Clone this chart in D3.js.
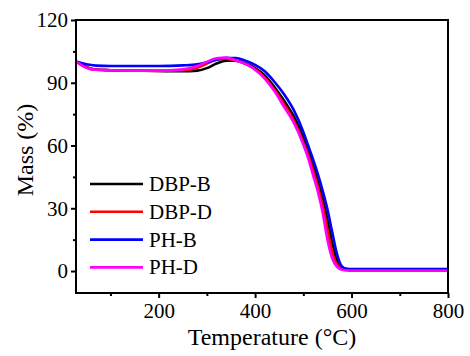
<!DOCTYPE html>
<html>
<head>
<meta charset="utf-8">
<script src="https://cdn.jsdelivr.net/npm/d3@7"></script>
<style>
  body { margin: 0; background: #fff; }
</style>
</head>
<body>
<div id="chart"></div>
<script>
const width = 470;
const height = 356;
const serif = '"Liberation Serif", "Times New Roman", Times, "DejaVu Serif", serif';

// data
const temps = [30, 50, 70, 100, 150, 200, 250, 280, 300, 320, 340, 360, 380, 400, 420, 440, 460, 480, 500, 510, 520, 530, 540, 550, 560, 570, 580, 590, 600, 700, 800];
const dbpB = [100, 97.5, 96.3, 96, 95.8, 95.6, 95.5, 95.8, 97, 99.2, 100.5, 100.5, 99.2, 97, 93.5, 88, 81.5, 74, 64, 57.5, 50.5, 43, 34.5, 24.5, 13.5, 5, 1.6, 1, 0.9, 0.9, 0.9];
const dbpD = [100, 97.3, 96.2, 96, 95.8, 95.7, 96, 97.2, 99.2, 101, 101.5, 100.6, 99, 96.5, 92.5, 86.8, 79.8, 72, 61.5, 55.5, 48.5, 40.5, 31.5, 20, 9, 3, 1.3, 0.9, 0.8, 0.8, 0.8];
const phB = [100, 98.8, 98.2, 98, 98, 98, 98.3, 98.8, 99.8, 101, 101.8, 101.8, 100.5, 98.5, 95.5, 90.5, 84.5, 77, 66.5, 60, 53.5, 46.5, 38.5, 29.5, 18.5, 8, 2.2, 1, 0.8, 0.8, 0.8];
const phD = [100, 97.2, 96.2, 96, 95.8, 95.8, 96.4, 98, 100, 101.7, 102, 100.8, 99, 96.2, 92, 86, 78.5, 71, 60.5, 54, 46, 38, 28, 15, 6, 2, 0.6, 0.3, 0.2, 0.2, 0.2];

const seriesNames = ['DBP-B', 'DBP-D', 'PH-B', 'PH-D'];
const seriesColors = ['#000000', '#ff0000', '#0000ff', '#ff00ff'];
const seriesValues = [dbpB, dbpD, phB, phD];

const xTicks = [200, 400, 600, 800];
const xMinor = [100, 300, 500, 700];
const yTicks = [0, 30, 60, 90, 120];
const yMinor = [15, 45, 75, 105];

const padL = 76, padR = 448, padT = 20, padB = 293;

let svg = d3.select('#chart').append('svg')
  .attr('width', width)
  .attr('height', height);

let x = d3.scaleLinear().domain([28.6, 800]).range([padL, padR]);
let y = d3.scaleLinear().domain([-10.5, 120]).range([padB, padT]);

// curves
let line = d3.line()
  .x((d, i) => x(temps[i]))
  .y(d => y(d))
  .curve(d3.curveMonotoneX);

seriesValues.forEach((vals, k) => {
  svg.append('path')
    .attr('d', line(vals))
    .attr('fill', 'none')
    .attr('stroke', seriesColors[k])
    .attr('stroke-width', 2.6);
});

// axes
svg.append('g')
  .attr('transform', 'translate(0,' + padB + ')')
  .call(d3.axisBottom(x).tickValues(xTicks).tickSize(5).tickPadding(5).tickSizeOuter(0));
svg.append('g')
  .attr('transform', 'translate(0,' + padB + ')')
  .call(d3.axisBottom(x).tickValues(xMinor).tickSize(3).tickFormat('').tickSizeOuter(0));

svg.append('g')
  .attr('transform', 'translate(' + padL + ',0)')
  .call(d3.axisLeft(y).tickValues(yTicks).tickSize(5).tickPadding(3).tickSizeOuter(0));
svg.append('g')
  .attr('transform', 'translate(' + padL + ',0)')
  .call(d3.axisLeft(y).tickValues(yMinor).tickSize(3).tickFormat('').tickSizeOuter(0));

svg.selectAll('.domain').remove();
svg.selectAll('g').attr('font-family', serif);
svg.selectAll('.tick line').attr('stroke', '#000').attr('stroke-width', 2);
svg.selectAll('.tick text')
  .attr('font-family', serif)
  .style('font-family', serif)
  .style('font-size', '21px')
  .attr('fill', '#000');

// frame
svg.append('rect')
  .attr('x', padL)
  .attr('y', padT)
  .attr('width', padR - padL)
  .attr('height', padB - padT)
  .attr('fill', 'none')
  .attr('stroke', '#000')
  .attr('stroke-width', 2);

// axis titles
svg.append('text')
  .text('Temperature (°C)')
  .attr('x', 272)
  .attr('y', 345)
  .attr('text-anchor', 'middle')
  .style('font-family', serif)
  .style('font-size', '24px');

svg.append('text')
  .text('Mass (%)')
  .attr('transform', 'translate(33,150) rotate(-90)')
  .attr('text-anchor', 'middle')
  .style('font-family', serif)
  .style('font-size', '24px');

// legend
let legend = svg.append('g');
seriesNames.forEach((name, k) => {
  let ly = 184 + k * 27.8;
  legend.append('line')
    .attr('x1', 90).attr('x2', 143)
    .attr('y1', ly).attr('y2', ly)
    .attr('stroke', seriesColors[k])
    .attr('stroke-width', 2.6);
  legend.append('text')
    .text(name)
    .attr('x', 149)
    .attr('y', ly + 7)
    .style('font-family', serif)
    .style('font-size', '21px');
});
</script>
</body>
</html>
